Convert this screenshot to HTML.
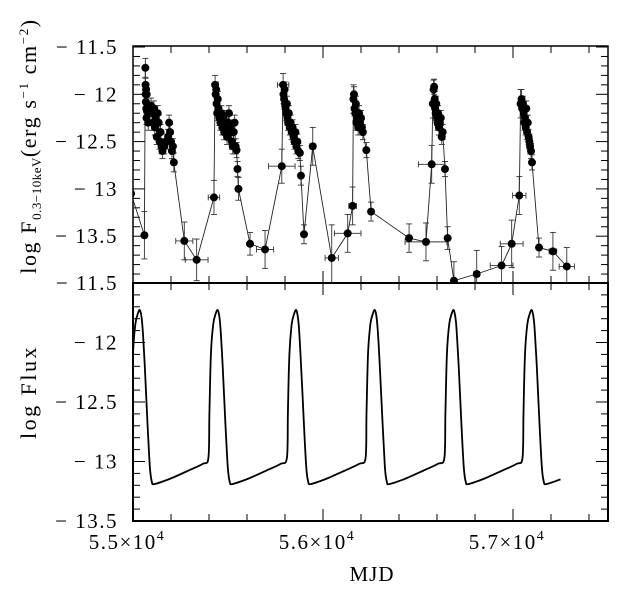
<!DOCTYPE html>
<html><head><meta charset="utf-8">
<style>
html,body{margin:0;padding:0;background:#fff;}
svg{display:block;font-family:"Liberation Serif","DejaVu Serif",serif;}
</style></head>
<body>
<svg id="chart" width="628" height="591" viewBox="0 0 628 591" xmlns="http://www.w3.org/2000/svg">
<defs>
<clipPath id="clipTop"><rect x="133" y="46" width="475" height="237"/></clipPath>
<clipPath id="clipBot"><rect x="133" y="283" width="475" height="238"/></clipPath>
</defs>
<g id="axes"></g>
<g id="topData" clip-path="url(#clipTop)"></g>
<g id="botData" clip-path="url(#clipBot)"></g>
<text x="372" y="581" font-size="21" letter-spacing="1" text-anchor="middle">MJD</text>
<text transform="translate(36,146) rotate(-90)" font-size="22" letter-spacing="1.6" text-anchor="middle">log F<tspan font-size="13" dy="5" letter-spacing="0.5">0.3−10keV</tspan><tspan dy="-5">(erg s</tspan><tspan font-size="13" dy="-8">−1</tspan><tspan dy="8"> cm</tspan><tspan font-size="13" dy="-8">−2</tspan><tspan dy="8">)</tspan></text>
<text transform="translate(36,392) rotate(-90)" font-size="22" letter-spacing="2.5" text-anchor="middle">log Flux</text>
</svg>
<script>
// ---- observed data (top panel) ----
const obsMJD = [54990,55060,55065,55066,55067,55068,55069,55070,55071,55072,55074,55080,
55095,55100,55105,55110,55115,55120,55125,55130,55135,55140,55145,55150,55155,55165,55175,55185,55190,55195,55200,55205,55210,55215,
55270,55335,55426,
55432,55435,55438,55440,55443,55446,55450,55455,55460,55465,55470,55475,55480,55485,55490,55495,55500,55505,55510,55515,55520,55525,55530,55535,55540,55545,55550,55555,
55616,55695,55783,
55790,55792,55795,55798,55800,55803,55806,55810,55813,55816,55820,55825,55830,55835,55840,55845,55850,55855,55860,55865,55870,55878,55884,
55900,55946,56046,56130,56156,
56160,56163,56166,56170,56173,56176,56180,56185,56190,56195,56200,56205,56210,56228,56253,
56453,56542,56572,
56578,56582,56585,56588,56590,56593,56596,56600,56603,56606,56610,56615,56620,56625,56630,56642,56656,
56689,56809,56940,56993,57033,
57040,57045,57048,57052,57056,57060,57063,57067,57070,57074,57078,57082,57086,57090,57095,57100,
57137,57210,57283];
const obsFlux = [-13.05,-13.49,-11.72,-11.9,-12.0,-12.08,-11.95,-12.15,-12.25,-12.0,-12.18,-12.3,
-12.12,-12.2,-12.3,-12.15,-12.35,-12.25,-12.45,-12.2,-12.3,-12.5,-12.4,-12.55,-12.6,-12.55,-12.5,-12.45,-12.3,-12.4,-12.5,-12.6,-12.55,-12.72,
-13.55,-13.75,-13.09,
-11.9,-12.0,-11.95,-12.1,-12.2,-12.05,-12.15,-12.25,-12.3,-12.2,-12.35,-12.25,-12.4,-12.3,-12.35,-12.45,-12.3,-12.2,-12.35,-12.4,-12.5,-12.55,-12.4,-12.3,-12.55,-12.59,-12.79,-13.0,
-13.58,-13.64,-12.76,
-11.9,-12.0,-12.05,-11.95,-12.1,-12.15,-12.2,-12.1,-12.25,-12.3,-12.2,-12.35,-12.3,-12.4,-12.35,-12.45,-12.5,-12.4,-12.55,-12.5,-12.6,-12.62,-12.86,
-13.48,-12.55,-13.73,-13.47,-13.18,
-12.05,-12.0,-12.15,-12.2,-12.1,-12.3,-12.25,-12.35,-12.2,-12.3,-12.25,-12.35,-12.4,-12.59,-13.24,
-13.52,-13.56,-12.74,
-12.1,-11.95,-11.92,-12.05,-12.15,-12.2,-12.1,-12.25,-12.3,-12.2,-12.35,-12.3,-12.25,-12.45,-12.4,-12.79,-13.52,
-13.97,-13.9,-13.81,-13.58,-13.07,
-12.1,-12.05,-12.15,-12.1,-12.2,-12.3,-12.25,-12.35,-12.15,-12.4,-12.3,-12.45,-12.5,-12.55,-12.6,-12.72,
-13.62,-13.66,-13.82];
const obsYErr = [0.15,0.25,0.1,0.07,0.07,0.07,0.07,0.07,0.07,0.07,0.07,0.08,
0.08,0.08,0.08,0.08,0.08,0.08,0.08,0.08,0.08,0.08,0.08,0.08,0.08,0.08,0.08,0.08,0.08,0.08,0.08,0.08,0.08,0.1,
0.2,0.22,0.18,
0.1,0.08,0.08,0.08,0.08,0.08,0.08,0.08,0.08,0.08,0.08,0.08,0.08,0.08,0.08,0.08,0.08,0.08,0.08,0.08,0.08,0.08,0.08,0.08,0.08,0.08,0.08,0.12,0.12,
0.2,0.18,0.12,
0.1,0.08,0.08,0.08,0.08,0.08,0.08,0.08,0.08,0.08,0.08,0.08,0.08,0.08,0.08,0.08,0.08,0.08,0.08,0.08,0.08,0.1,0.1,
0.2,0.35,0.2,0.2,0.15,
0.08,0.08,0.08,0.08,0.08,0.08,0.08,0.08,0.08,0.08,0.08,0.08,0.08,0.1,0.15,
0.2,0.2,0.15,
0.1,0.08,0.08,0.08,0.08,0.08,0.08,0.08,0.08,0.08,0.08,0.08,0.08,0.08,0.08,0.12,0.2,
0.25,0.2,0.25,0.2,0.15,
0.1,0.08,0.08,0.08,0.08,0.08,0.08,0.08,0.08,0.08,0.08,0.08,0.08,0.08,0.08,0.1,
0.2,0.2,0.2];
const obsXErr = [0,10,0,0,0,0,0,0,0,0,0,0,
0,0,0,0,0,0,0,0,0,0,0,0,0,0,0,0,0,0,0,0,0,0,
45,60,30,
0,0,0,0,0,0,0,0,0,0,0,0,0,0,0,0,0,0,0,0,0,0,0,0,0,0,0,0,0,
45,70,30,
0,0,0,0,0,0,0,0,0,0,0,0,0,0,0,0,0,0,0,0,0,0,0,
15,35,70,20,0,
0,0,0,0,0,0,0,0,0,0,0,0,0,0,0,
110,70,0,
0,0,0,0,0,0,0,0,0,0,0,0,0,0,0,0,0,
15,60,60,35,0,
0,0,0,0,0,0,0,0,0,0,0,0,0,0,0,0,
20,40,40];

// ---- model (bottom panel) ----
const peakMJD = [55037,55447,55860,56274,56689,57100];
const cycleDays = [-50,-45,-37,-25,-12,0,12,25,40,52,62,75,150,250,330];
const cycleFlux = [-12.97,-12.6,-12.1,-11.85,-11.76,-11.73,-11.85,-12.2,-12.7,-13.05,-13.17,-13.19,-13.15,-13.08,-13.02];
const modelEndMJD = 57316;

const xTicks = [55000,55200,55400,55600,55800,56000,56200,56400,56600,56800,57000,57200,57400];
const xLabels = ["5.5×10","5.6×10","5.7×10"];
const xLabelVals = [55000,56000,57000];
const topYTicks = [-11.5,-12,-12.5,-13,-13.5];
const botYTicks = [-11.5,-12,-12.5,-13,-13.5];

const NS = "http://www.w3.org/2000/svg";
const L=133,R=608,T=46,M=283,B=521;
const X0=55000,X1=57500;
function xs(v){return L+(v-X0)/(X1-X0)*(R-L);}
function yTop(v){return 47+(-11.5-v)*94.6;}
function yBot(v){return M+(-11.5-v)*(B-M)/2;}
function mk(tag,attrs,parent){const e=document.createElementNS(NS,tag);for(const k in attrs)e.setAttribute(k,attrs[k]);parent.appendChild(e);return e;}

const ax=document.getElementById('axes');
let f1=mk('rect',{x:L,y:T,width:R-L,height:M-T,fill:'none',stroke:'#000','stroke-width':1.5},ax);


let f2=mk('rect',{x:L,y:M,width:R-L,height:B-M,fill:'none',stroke:'#000','stroke-width':2},ax);



xTicks.forEach(v=>{
  const x=xs(v); if(x>R+0.5)return;
  const len=(v%1000===0)?12:7;
  [[T,1],[M,-1],[M,1],[B,-1]].forEach(([y,d])=>{
    const t=mk('line',{x1:x,x2:x,y1:y,y2:y+d*len,stroke:'#000','stroke-width':1},ax);
    
    
  });
});
xLabelVals.forEach((v,i)=>{
  const t=mk('text',{x:xs(v)-6,y:549,'font-size':21,'letter-spacing':1.5,'text-anchor':'middle'},ax);
  
  
  t.textContent=xLabels[i];
  const s=mk('tspan',{'font-size':14,dy:-9},t); s.textContent='4';
});
function fmt(v){return (v===-12||v===-13?String(v):v.toFixed(1)).replace('-','− ');}
for(let k=0;k<=25;k++){
  const v=-11.5-k*0.1, y=yTop(v); if(y>M)break;
  const major=(k%5===0), len=major?12:7;
  [[L,1],[R,-1]].forEach(([x,d])=>{
    const t=mk('line',{x1:x,x2:x+d*len,y1:y,y2:y,stroke:'#000','stroke-width':1},ax);
    
    
  });
}
topYTicks.forEach(v=>{
  const t=mk('text',{x:118,y:yTop(v)+7,'font-size':21,'letter-spacing':1.5,'text-anchor':'end'},ax);
  
  
  t.textContent=fmt(v);
});
for(let k=0;k<=20;k++){
  const v=-11.5-k*0.1, y=yBot(v);
  const major=(k%5===0), len=major?12:7;
  [[L,1],[R,-1]].forEach(([x,d])=>{
    const t=mk('line',{x1:x,x2:x+d*len,y1:y,y2:y,stroke:'#000','stroke-width':1},ax);
    
    
  });
}
botYTicks.forEach(v=>{
  const t=mk('text',{x:118,y:yBot(v)+7,'font-size':21,'letter-spacing':1.5,'text-anchor':'end'},ax);
  
  
  t.textContent=fmt(v);
});

const td=document.getElementById('topData');
let pts=obsMJD.map((m,i)=>xs(m).toFixed(1)+','+yTop(obsFlux[i]).toFixed(1)).join(' ');
const pl=mk('polyline',{points:pts,fill:'none',stroke:'#222','stroke-width':0.9},td);


obsMJD.forEach((m,i)=>{
  const x=xs(m), y=yTop(obsFlux[i]);
  const ye=obsYErr[i]*94.6, xe=obsXErr[i]*(R-L)/(X1-X0);
  const g=mk('g',{stroke:'#333','stroke-width':0.9},td);
  
  
  mk('line',{x1:x,x2:x,y1:y-ye,y2:y+ye},g);
  mk('line',{x1:x-3,x2:x+3,y1:y-ye,y2:y-ye},g);
  mk('line',{x1:x-3,x2:x+3,y1:y+ye,y2:y+ye},g);
  if(xe>0){
    mk('line',{x1:x-xe,x2:x+xe,y1:y,y2:y},g);
    mk('line',{x1:x-xe,x2:x-xe,y1:y-3,y2:y+3},g);
    mk('line',{x1:x+xe,x2:x+xe,y1:y-3,y2:y+3},g);
  }
});
obsMJD.forEach((m,i)=>{
  const c=mk('circle',{cx:xs(m),cy:yTop(obsFlux[i]),r:4,fill:'#000'},td);
  
  
});

const modelPts=[];
peakMJD.forEach(p=>{
  cycleDays.forEach((d,j)=>{ const m=p+d; if(m<=modelEndMJD) modelPts.push([m,cycleFlux[j]]); });
});
modelPts.sort((a,b)=>a[0]-b[0]);
const P=modelPts.map(q=>[xs(q[0]),yBot(q[1])]);
let d='M'+P[0][0]+','+P[0][1];
for(let i=0;i<P.length-1;i++){
  const p0=P[Math.max(0,i-1)],p1=P[i],p2=P[i+1],p3=P[Math.min(P.length-1,i+2)];
  const t=0.16;
  const c1=[p1[0]+(p2[0]-p0[0])*t,p1[1]+(p2[1]-p0[1])*t];
  const c2=[p2[0]-(p3[0]-p1[0])*t,p2[1]-(p3[1]-p1[1])*t];
  d+=' C'+c1[0].toFixed(1)+','+c1[1].toFixed(1)+' '+c2[0].toFixed(1)+','+c2[1].toFixed(1)+' '+p2[0].toFixed(1)+','+p2[1].toFixed(1);
}
const mp=mk('path',{d:d,fill:'none',stroke:'#000','stroke-width':1.8},document.getElementById('botData'));


</script>
</body></html>
